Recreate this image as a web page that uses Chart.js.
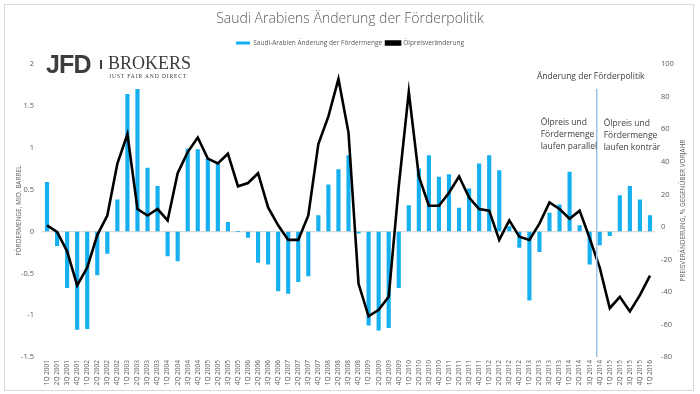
<!DOCTYPE html>
<html>
<head>
<meta charset="utf-8">
<script src="https://cdn.jsdelivr.net/npm/chart.js@4.4.1/dist/chart.umd.min.js"></script>
<style>
  html, body { margin: 0; padding: 0; background: #fff; }
  #wrap { position: relative; width: 700px; height: 394px; }
  #frame { position: absolute; left: 4px; top: 4px; width: 690px; height: 387px; border: 1px solid #d9d9d9; box-sizing: border-box; pointer-events: none; }
  #logo { position: absolute; left: 46px; top: 53px; color: #3d3d3d; }
  #logo .jfd { position: absolute; left: 0; top: -3px; font: bold 25px "Liberation Sans", Arial, sans-serif; letter-spacing: -0.8px; }
  #logo .sep { position: absolute; left: 54px; top: 7px; width: 2px; height: 9px; background: #3d3d3d; }
  #logo .brokers { position: absolute; left: 62px; top: 0px; font: 18px "Liberation Serif", serif; white-space: nowrap; }
  #logo .sub { position: absolute; left: 63px; top: 20px; font: 5.5px "Liberation Serif", serif; letter-spacing: 0.9px; white-space: nowrap; }
</style>
</head>
<body>
<div id="wrap">
  <canvas id="chart" width="700" height="394"></canvas>
  <div id="frame"></div>
  <div id="logo">
    <span class="jfd">JFD</span>
    <span class="sep"></span>
    <span class="brokers">BROKERS</span>
    <span class="sub">JUST FAIR AND DIRECT</span>
  </div>
</div>
<script>
// Quarters 1Q 2001 .. 1Q 2016
const quarters = [];
for (let y = 2001; y <= 2016; y++) {
    for (let q = 1; q <= 4; q++) {
        if (y === 2016 && q > 1) break;
        quarters.push(q + "Q " + y);
    }
}

// Saudi-Arabien Änderung der Fördermenge (Mio. Barrel)
const productionChange = [
    0.59, -0.17, -0.67, -1.17, -1.16, -0.52, -0.26, 0.38,
    1.64, 1.70, 0.76, 0.54, -0.29, -0.35, 0.99, 0.98,
    0.87, 0.83, 0.11, 0, -0.07, -0.37, -0.39, -0.71,
    -0.74, -0.60, -0.53, 0.19, 0.56, 0.74, 0.91, -0.02,
    -1.12, -1.18, -1.15, -0.67, 0.31, 0.75, 0.91, 0.65,
    0.68, 0.28, 0.51, 0.81, 0.91, 0.73, 0.06, -0.19,
    -0.82, -0.24, 0.22, 0.32, 0.71, 0.07, -0.39, -0.16,
    -0.05, 0.43, 0.54, 0.38, 0.19
];

// Ölpreisveränderung (% gegenüber Vorjahr)
const oilPriceChange = [
    1, -3, -15, -36, -25, -5, 7, 39,
    57, 11, 7, 11, 4, 33, 46, 55,
    42, 39, 45, 25, 27, 33, 12, 1,
    -8, -8, 7, 51, 68, 91, 58, -35,
    -55, -51, -43, 25, 83, 31, 13, 13,
    21, 31, 18, 11, 10, -8, 4, -6,
    -8, 2, 15, 11, 5, 10, -7, -25,
    -50, -43, -52, -42, -30
];

const leftTicks = [-1.5, -1, -0.5, 0, 0.5, 1, 1.5, 2];
const rightTicks = [-80, -60, -40, -20, 0, 20, 40, 60, 80, 100];

// where the policy change marker sits (between 3Q 2014 and 4Q 2014)
const policyChangeAt = 54.7;

const textGray = "#595959";
const fontFamily = "'Open Sans', 'Noto Sans', sans-serif";

// extra room under the legend
const legendGap = {
    id: "legendGap",
    beforeInit(chart) {
        const fit = chart.legend.fit;
        chart.legend.fit = function () {
            fit.call(this);
            this.height += 8;
        };
    }
};

// vertical marker, notes and rotated axis titles
const notesPlugin = {
    id: "notes",
    afterDatasetsDraw(chart) {
        const ctx = chart.ctx;
        const x = chart.scales.x;
        const y2 = chart.scales.y2;
        const area = chart.chartArea;
        const i0 = Math.floor(policyChangeAt);
        const lx = x.getPixelForValue(i0) + (policyChangeAt - i0) * (x.getPixelForValue(i0 + 1) - x.getPixelForValue(i0));

        ctx.save();
        ctx.strokeStyle = "#9dc3e6";
        ctx.lineWidth = 1.5;
        ctx.beginPath();
        ctx.moveTo(lx, y2.getPixelForValue(85));
        ctx.lineTo(lx, y2.getPixelForValue(-80));
        ctx.stroke();

        ctx.fillStyle = "#404040";
        ctx.font = "8.5px " + fontFamily;
        ctx.textBaseline = "middle";
        ctx.textAlign = "center";
        ctx.fillText("Änderung der Förderpolitik", lx - 6, 77);
        ctx.textAlign = "left";
        ["Ölpreis und", "Fördermenge", "laufen parallel"].forEach((t, i) => ctx.fillText(t, lx - 56, 123 + i * 11.7));
        ["Ölpreis und", "Fördermenge", "laufen konträr"].forEach((t, i) => ctx.fillText(t, lx + 7, 124 + i * 11.7));

        // axis titles, both reading bottom to top
        const midY = (area.top + area.bottom) / 2;
        ctx.fillStyle = textGray;
        ctx.font = "6.5px " + fontFamily;
        ctx.textAlign = "center";
        ctx.save();
        ctx.translate(19, midY);
        ctx.rotate(-Math.PI / 2);
        ctx.fillText("FÖRDERMENGE, MIO. BARREL", 0, 0);
        ctx.restore();
        ctx.save();
        ctx.translate(683, midY);
        ctx.rotate(-Math.PI / 2);
        ctx.fillText("PREISVERÄNDERUNG, % GEGENÜBER VORJAHR", 0, 0);
        ctx.restore();
        ctx.restore();
    }
};

new Chart(document.getElementById("chart"), {
    type: "bar",
    data: {
        labels: quarters,
        datasets: [
            {
                type: "bar",
                label: "Saudi-Arabien Änderung der Fördermenge",
                data: productionChange,
                backgroundColor: "#16b0f0",
                barThickness: 3.5,
                yAxisID: "y",
                order: 1
            },
            {
                type: "line",
                label: "Ölpreisveränderung",
                data: oilPriceChange,
                borderColor: "#000000",
                backgroundColor: "#000000",
                borderWidth: 2.6,
                pointRadius: 0,
                tension: 0,
                yAxisID: "y2",
                order: 0
            }
        ]
    },
    options: {
        responsive: false,
        animation: false,
        layout: { padding: { top: 0, bottom: 0, left: 0, right: 0 } },
        plugins: {
            title: {
                display: true,
                text: "Saudi Arabiens Änderung der Förderpolitik",
                color: textGray,
                font: { family: fontFamily, size: 14, weight: "300" },
                padding: { top: 11, bottom: 8 }
            },
            legend: {
                display: true,
                labels: {
                    color: textGray,
                    font: { family: fontFamily, size: 6.5 },
                    boxWidth: 14,
                    boxHeight: 3,
                    padding: 4,
                    sort: (a, b) => a.datasetIndex - b.datasetIndex
                }
            },
            tooltip: { enabled: false }
        },
        scales: {
            x: {
                offset: true,
                afterFit: s => { s.height = 37; },
                grid: { display: false, drawTicks: false },
                border: { display: false },
                ticks: {
                    color: textGray,
                    font: { family: fontFamily, size: 6.5 },
                    autoSkip: false,
                    minRotation: 90,
                    maxRotation: 90,
                    padding: 3
                }
            },
            y: {
                position: "left",
                min: -1.5,
                max: 2,
                afterBuildTicks: s => { s.ticks = leftTicks.map(v => ({ value: v })); },
                afterFit: s => { s.width = 42; },
                grid: {
                    drawTicks: false,
                    color: c => (c.tick && c.tick.value === 0 ? "#d9d9d9" : "rgba(0,0,0,0)"),
                    lineWidth: 1.2
                },
                border: { display: false },
                ticks: {
                    color: textGray,
                    font: { family: fontFamily, size: 7.5 },
                    padding: 8,
                    callback: v => String(v)
                }
            },
            y2: {
                position: "right",
                min: -80,
                max: 100,
                afterBuildTicks: s => { s.ticks = rightTicks.map(v => ({ value: v })); },
                afterFit: s => { s.width = 45; },
                grid: { display: false, drawTicks: false },
                border: { display: false },
                ticks: {
                    color: textGray,
                    font: { family: fontFamily, size: 7.5 },
                    padding: 6,
                    callback: v => String(v)
                }
            }
        }
    },
    plugins: [legendGap, notesPlugin]
});
</script>
</body>
</html>
